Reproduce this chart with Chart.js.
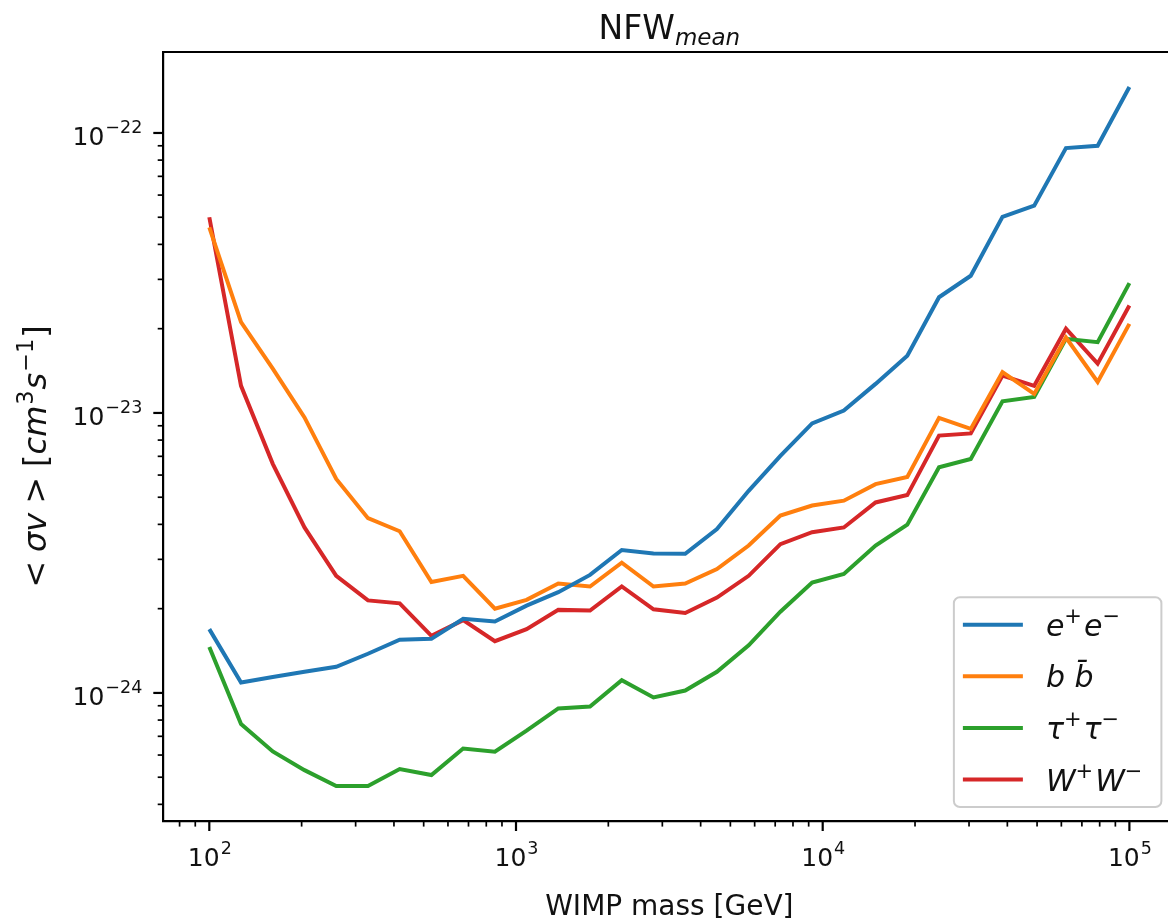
<!DOCTYPE html>
<html>
<head>
<meta charset="utf-8">
<script src="https://cdn.jsdelivr.net/npm/chart.js@4.4.0/dist/chart.umd.min.js"></script>
<style>
  html, body { margin: 0; padding: 0; overflow: hidden; background: #fff; }
  #wrap { width: 1185px; height: 921px; }
</style>
</head>
<body>
<div id="wrap"><canvas id="chart" width="1185" height="921"></canvas></div>
<script>
// WIMP masses [GeV], 30 log-spaced points from 1e2 to 1e5
const masses = [100, 126.9, 161.03, 204.35, 259.32, 329.08, 417.6, 529.93, 672.5, 853.4,
  1082.6, 1373.8, 1743.3, 2212.2, 2807.2, 3562.2, 4520.4, 5736.2, 7278.9, 9236.7,
  11721, 14873, 18874, 23950, 30392, 38566, 48939, 62102, 78805, 100000];

// <sigma v> upper limits [cm^3 s^-1]
const eeLimits = [1.69e-24, 1.09e-24, 1.14e-24, 1.19e-24, 1.24e-24, 1.38e-24, 1.55e-24, 1.56e-24, 1.84e-24, 1.80e-24,
  2.05e-24, 2.29e-24, 2.64e-24, 3.24e-24, 3.15e-24, 3.14e-24, 3.85e-24, 5.27e-24, 7.03e-24, 9.18e-24,
  1.02e-23, 1.27e-23, 1.60e-23, 2.59e-23, 3.09e-23, 5.02e-23, 5.50e-23, 8.83e-23, 9.0e-23, 1.46e-22];
const bbLimits = [4.60e-23, 2.11e-23, 1.44e-23, 9.64e-24, 5.81e-24, 4.21e-24, 3.78e-24, 2.49e-24, 2.62e-24, 2.00e-24,
  2.15e-24, 2.46e-24, 2.40e-24, 2.92e-24, 2.40e-24, 2.46e-24, 2.77e-24, 3.36e-24, 4.30e-24, 4.67e-24,
  4.86e-24, 5.57e-24, 5.91e-24, 9.60e-24, 8.77e-24, 1.40e-23, 1.17e-23, 1.86e-23, 1.29e-23, 2.08e-23];
const tauLimits = [1.46e-24, 7.74e-25, 6.18e-25, 5.30e-25, 4.65e-25, 4.65e-25, 5.35e-25, 5.09e-25, 6.33e-25, 6.17e-25,
  7.33e-25, 8.80e-25, 8.95e-25, 1.11e-24, 9.64e-25, 1.02e-24, 1.19e-24, 1.48e-24, 1.95e-24, 2.48e-24,
  2.66e-24, 3.36e-24, 3.99e-24, 6.40e-24, 6.85e-24, 1.10e-23, 1.14e-23, 1.84e-23, 1.79e-23, 2.91e-23];
const wwLimits = [5.0e-23, 1.25e-23, 6.58e-24, 3.90e-24, 2.62e-24, 2.14e-24, 2.09e-24, 1.60e-24, 1.82e-24, 1.53e-24,
  1.69e-24, 1.98e-24, 1.97e-24, 2.40e-24, 1.99e-24, 1.93e-24, 2.19e-24, 2.62e-24, 3.40e-24, 3.75e-24,
  3.90e-24, 4.79e-24, 5.09e-24, 8.30e-24, 8.45e-24, 1.36e-23, 1.25e-23, 2.0e-23, 1.50e-23, 2.42e-23];

const seriesNames = ['e^+e^-', 'b b\u0304', 'τ^+τ^-', 'W^+W^-'];
const seriesColors = ['#1f77b4', '#ff7f0e', '#2ca02c', '#d62728'];

// major tick labels ("^" marks the exponent)
const xTickValues = [1e2, 1e3, 1e4, 1e5];
const xTickLabels = ['10^2', '10^3', '10^4', '10^5'];
const yTickValues = [1e-24, 1e-23, 1e-22];
const yTickLabels = ['10^−24', '10^−23', '10^−22'];

const titleMain = 'NFW', titleSub = 'mean';
const xTitle = 'WIMP mass [GeV]';

const FONT = "'DejaVu Sans', sans-serif";
const TXT = '#111';
const allSeries = [eeLimits, bbLimits, tauLimits, wwLimits];

// matplotlib style 5% margins in log space
function logRange(vals) {
  const lo = Math.log10(Math.min(...vals));
  const hi = Math.log10(Math.max(...vals));
  const m = (hi - lo) * 0.05;
  return [Math.pow(10, lo - m), Math.pow(10, hi + m)];
}
const [xMin, xMax] = logRange(masses);
const [yMin, yMax] = logRange(allSeries.flat());

function logTicks(min, max) {
  const out = [];
  for (let e = Math.floor(Math.log10(min)); e <= Math.ceil(Math.log10(max)); e++) {
    for (let k = 1; k <= 9; k++) {
      const v = k * Math.pow(10, e);
      if (v >= min * 0.9999 && v <= max * 1.0001) out.push({ value: v, major: k === 1 });
    }
  }
  return out;
}
function isDecade(v) {
  const l = Math.log10(v);
  return Math.abs(l - Math.round(l)) < 1e-6;
}

// "10^−22" -> "10" + raised smaller exponent
function powerLabel(ctx, label, size, x, y, align) {
  const [b, e] = label.split('^');
  const es = size * 0.7;
  ctx.font = `${size}px ${FONT}`;
  const wb = ctx.measureText(b).width;
  ctx.font = `${es}px ${FONT}`;
  const we = ctx.measureText(e).width;
  let x0 = x;
  if (align === 'center') x0 = x - (wb + we) / 2;
  if (align === 'right') x0 = x - (wb + we);
  ctx.font = `${size}px ${FONT}`;
  ctx.fillText(b, x0, y);
  ctx.font = `${es}px ${FONT}`;
  ctx.fillText(e, x0 + wb + 1, y - size * 0.48);
}

// mixed text: parts [text, italic, sup, gapAfter]
function drawParts(ctx, parts, size, x, y, measureOnly) {
  let cx = x;
  parts.forEach(([t, it, sup, gapAfter]) => {
    const s = sup ? size * 0.7 : size;
    ctx.font = `${it ? 'italic ' : ''}${s}px ${FONT}`;
    if (!measureOnly) ctx.fillText(t, cx, sup ? y - size * 0.42 : y);
    cx += ctx.measureText(t).width + (gapAfter || 0);
  });
  return cx - x;
}

// parse "e^+e^-" style legend labels into parts
function labelParts(label) {
  const parts = [];
  const re = /\^(.)|(.\u0304?)/gu;
  let m;
  while ((m = re.exec(label))) {
    if (m[1]) parts.push([m[1] === '-' ? '−' : m[1], false, true, 2]);
    else parts.push([m[2], true, false, 0]);
  }
  return parts;
}

const yTitleParts = [
  ['<', false, false, 9], ['σv', true, false, 9], ['>', false, false, 10],
  ['[', false, false, 0], ['cm', true, false, 1], ['3', false, true, 1],
  ['s', true, false, 1], ['−1', false, true, 1], [']', false, false, 0]
];

const decorations = {
  id: 'decorations',
  afterDraw(chart) {
    const { ctx, chartArea: a } = chart;
    const xs = chart.scales.x, ys = chart.scales.y;
    ctx.save();
    // top/right frame
    ctx.strokeStyle = '#000';
    ctx.lineWidth = 2.2;
    ctx.beginPath();
    ctx.moveTo(a.left, a.top); ctx.lineTo(a.right, a.top); ctx.lineTo(a.right, a.bottom);
    ctx.stroke();
    // outward ticks
    xs.ticks.forEach(t => {
      const p = xs.getPixelForValue(t.value);
      if (p < a.left - 0.5 || p > a.right + 0.5) return;
      const maj = isDecade(t.value);
      ctx.lineWidth = maj ? 2.2 : 1.7;
      ctx.beginPath();
      ctx.moveTo(p, a.bottom); ctx.lineTo(p, a.bottom + (maj ? 10 : 5.6));
      ctx.stroke();
    });
    ys.ticks.forEach(t => {
      const p = ys.getPixelForValue(t.value);
      if (p < a.top - 0.5 || p > a.bottom + 0.5) return;
      const maj = isDecade(t.value);
      ctx.lineWidth = maj ? 2.2 : 1.7;
      ctx.beginPath();
      ctx.moveTo(a.left, p); ctx.lineTo(a.left - (maj ? 10 : 5.6), p);
      ctx.stroke();
    });
    // tick labels
    ctx.fillStyle = TXT;
    ctx.textBaseline = 'alphabetic';
    xTickValues.forEach((v, i) => {
      powerLabel(ctx, xTickLabels[i], 25, xs.getPixelForValue(v), a.bottom + 45, 'center');
    });
    yTickValues.forEach((v, i) => {
      powerLabel(ctx, yTickLabels[i], 25, a.left - 22, ys.getPixelForValue(v) + 12, 'right');
    });
    // title
    ctx.font = `33px ${FONT}`;
    const w1 = ctx.measureText(titleMain).width;
    ctx.font = `italic 23px ${FONT}`;
    const w2 = ctx.measureText(titleSub).width;
    const x0 = (a.left + a.right) / 2 - (w1 + w2) / 2;
    ctx.font = `33px ${FONT}`;
    ctx.fillText(titleMain, x0, 39);
    ctx.font = `italic 23px ${FONT}`;
    ctx.fillText(titleSub, x0 + w1, 45);
    // x axis title
    ctx.font = `28px ${FONT}`;
    ctx.textAlign = 'center';
    ctx.fillText(xTitle, (a.left + a.right) / 2, 915);
    ctx.textAlign = 'left';
    // y axis title (rotated)
    const yw = drawParts(ctx, yTitleParts, 32, 0, 0, true);
    ctx.save();
    ctx.translate(46, (a.top + a.bottom) / 2 + 20);
    ctx.rotate(-Math.PI / 2);
    drawParts(ctx, yTitleParts, 32, -yw / 2, 0, false);
    ctx.restore();
    ctx.restore();
  }
};

const legendBox = {
  id: 'legendBox',
  afterDraw(chart) {
    const { ctx, chartArea: a } = chart;
    const sets = chart.data.datasets;
    const fs = 30, rowH = 51.6, topPad = 27.5;
    ctx.save();
    const tw = Math.max(...sets.map(d => drawParts(ctx, labelParts(d.label), fs, 0, 0, true)));
    const w = 9 + 60 + 23 + tw + 17;
    const h = topPad * 2 + rowH * (sets.length - 1);
    const right = a.right - 14, bottom = a.bottom - 14;
    const left = right - w, top = bottom - h;
    ctx.beginPath();
    ctx.roundRect(left, top, w, h, 6);
    ctx.fillStyle = 'rgba(255,255,255,0.8)';
    ctx.fill();
    ctx.strokeStyle = '#cccccc';
    ctx.lineWidth = 2;
    ctx.stroke();
    sets.forEach((d, i) => {
      const cy = top + topPad + i * rowH;
      ctx.strokeStyle = d.borderColor;
      ctx.lineWidth = 4;
      ctx.beginPath();
      ctx.moveTo(left + 9, cy); ctx.lineTo(left + 69, cy);
      ctx.stroke();
      ctx.fillStyle = TXT;
      ctx.textBaseline = 'alphabetic';
      drawParts(ctx, labelParts(d.label), fs, left + 92, cy + 11, false);
    });
    ctx.restore();
  }
};

new Chart(document.getElementById('chart'), {
  type: 'line',
  data: {
    datasets: allSeries.map((vals, i) => ({
      label: seriesNames[i],
      data: masses.map((m, j) => ({ x: m, y: vals[j] })),
      borderColor: seriesColors[i],
      backgroundColor: seriesColors[i],
      borderWidth: 4,
      pointRadius: 0,
      tension: 0,
      fill: false
    }))
  },
  options: {
    responsive: false,
    devicePixelRatio: 1,
    animation: false,
    layout: { padding: { top: 52, right: 9.6, left: 0, bottom: 0 } },
    plugins: { legend: { display: false }, title: { display: false }, tooltip: { enabled: false } },
    scales: {
      x: {
        type: 'logarithmic',
        min: xMin, max: xMax,
        afterFit: s => { s.height = 100; },
        afterBuildTicks: s => { s.ticks = logTicks(xMin, xMax); s.min = xMin; s.max = xMax; },
        grid: { display: false, drawTicks: false },
        border: { display: true, color: '#000', width: 2.2 },
        ticks: { display: false, autoSkip: false }
      },
      y: {
        type: 'logarithmic',
        min: yMin, max: yMax,
        afterFit: s => { s.width = 163.3; },
        afterBuildTicks: s => { s.ticks = logTicks(yMin, yMax); s.min = yMin; s.max = yMax; },
        grid: { display: false, drawTicks: false },
        border: { display: true, color: '#000', width: 2.2 },
        ticks: { display: false, autoSkip: false }
      }
    }
  },
  plugins: [decorations, legendBox]
});
</script>
</body>
</html>
